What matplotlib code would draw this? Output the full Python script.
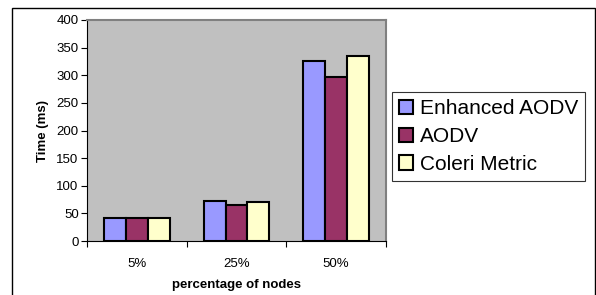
import matplotlib.pyplot as plt
import numpy as np
from matplotlib.patches import Rectangle

categories = ['5%', '25%', '50%']
enhanced_aodv = [42, 72, 325]
aodv = [41, 66, 296]
coleri_metric = [42, 71, 335]
series_names = ['Enhanced AODV', 'AODV', 'Coleri Metric']
colors = ['#9999FF', '#993366', '#FFFFCC']

plt.rcParams['font.family'] = ['Liberation Sans', 'DejaVu Sans']

fig = plt.figure(figsize=(5.96, 2.95), dpi=100)
ax = fig.add_axes([87 / 596, 1 - 241 / 295, 299 / 596, 221 / 295])

# outer chart frame
fig.patches.append(Rectangle((12 / 596, -0.1), 583 / 596, 1 - 8 / 295 + 0.1,
                             transform=fig.transFigure, fill=False,
                             edgecolor='black', linewidth=1.0))

x = np.arange(len(categories))
w = 0.22
for i, (vals, name, c) in enumerate(zip([enhanced_aodv, aodv, coleri_metric], series_names, colors)):
    ax.bar(x + (i - 1) * w, vals, w, color=c, edgecolor='black', linewidth=1.5, label=name)

ax.set_facecolor('#C0C0C0')
ax.set_xlim(-0.5, 2.5)
ax.set_ylim(0, 400)
ax.set_yticks(range(0, 401, 50))
ax.set_xticks([-0.5, 0.5, 1.5, 2.5])
ax.set_xticklabels([])
ax.set_xticks(x, minor=True)
ax.set_xticklabels(categories, minor=True)
ax.tick_params(axis='x', which='minor', length=0, pad=12, labelsize=9.5)
ax.tick_params(axis='x', which='major', length=4, width=0.8)
ax.tick_params(axis='y', length=4, width=0.8, labelsize=9.5, pad=2)
for s in ['top', 'right']:
    ax.spines[s].set_color('#808080')
    ax.spines[s].set_linewidth(1.5)
for s in ['left', 'bottom']:
    ax.spines[s].set_color('black')
    ax.spines[s].set_linewidth(0.8)

ax.set_xlabel('percentage of nodes', fontsize=9.5, fontweight='bold', labelpad=7)
ax.set_ylabel('Time (ms)', fontsize=9.5, fontweight='bold', labelpad=5)

leg = fig.legend(loc='upper left', bbox_to_anchor=(392 / 596, 1 - 92 / 295),
                 fontsize=15, frameon=True, fancybox=False, edgecolor='black',
                 handlelength=0.67, handleheight=0.67, handletextpad=0.3,
                 labelspacing=0.42, borderpad=0.35, borderaxespad=0)
leg.get_frame().set_linewidth(0.8)

fig.savefig('out.png', dpi=100)
